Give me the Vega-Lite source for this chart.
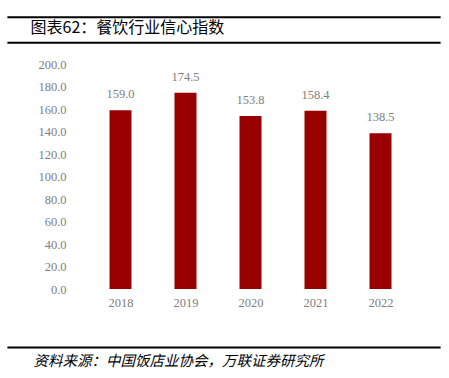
{
  "$schema": "https://vega.github.io/schema/vega-lite/v6.json",
  "width": 335,
  "height": 225,
  "autosize": {"type": "none"},
  "padding": {"left": 83, "top": 64, "right": 31, "bottom": 89},
  "background": "white",
  "config": {
    "view": {"stroke": null},
    "axis": {
      "labelOverlap": false,
      "domain": false,
      "ticks": false,
      "grid": false,
      "title": null,
      "labelFont": "Liberation Serif",
      "labelFontSize": 12.5,
      "labelColor": "#808080"
    },
    "axisX": {"labelPadding": 7},
    "axisY": {"labelPadding": 17}
  },
  "datasets": {
    "bars": [
      {"year": 2018, "value": 159.0},
      {"year": 2019, "value": 174.5},
      {"year": 2020, "value": 153.8},
      {"year": 2021, "value": 158.4},
      {"year": 2022, "value": 138.5}
    ],
    "rules": [
      {"x1": 2016.26, "x2": 2022.925, "y": 241.5},
      {"x1": 2016.26, "x2": 2022.925, "y": 218.9},
      {"x1": 2016.26, "x2": 2022.925, "y": -52}
    ],
    "texts": [
      {"x": 2016.617, "y": 232.3, "label": "图表62：餐饮行业信心指数", "kind": "title"},
      {"x": 2016.66, "y": -64.9, "label": "资料来源：中国饭店业协会，万联证券研究所", "kind": "source"}
    ]
  },
  "encoding": {
    "x": {
      "type": "quantitative",
      "scale": {"domain": [2017.5, 2022.5], "nice": false, "zero": false},
      "axis": {"values": [2018, 2019, 2020, 2021, 2022], "tickCount": 5, "format": "d"}
    },
    "y": {
      "type": "quantitative",
      "scale": {"domain": [0, 200], "nice": false, "zero": false},
      "axis": {"values": [0, 20, 40, 60, 80, 100, 120, 140, 160, 180, 200], "tickCount": 11, "format": ".1f"}
    }
  },
  "layer": [
    {
      "data": {"name": "bars"},
      "mark": {"type": "bar", "color": "#990000", "size": 22},
      "encoding": {
        "x": {"field": "year"},
        "y": {"field": "value"}
      }
    },
    {
      "data": {"name": "bars"},
      "mark": {"type": "text", "baseline": "bottom", "dy": -9, "font": "Liberation Serif", "fontSize": 12.5, "color": "#808080"},
      "encoding": {
        "x": {"field": "year"},
        "y": {"field": "value"},
        "text": {"field": "value", "type": "quantitative", "format": ".1f"}
      }
    },
    {
      "data": {"name": "rules"},
      "mark": {"type": "rule", "color": "#000000", "strokeWidth": 2, "clip": false},
      "encoding": {
        "x": {"field": "x1"},
        "x2": {"field": "x2"},
        "y": {"field": "y"}
      }
    },
    {
      "data": {"name": "texts"},
      "transform": [{"filter": "datum.kind === 'title'"}],
      "mark": {"type": "text", "align": "left", "baseline": "middle", "font": "Noto Sans CJK SC", "fontSize": 16, "fontWeight": "normal", "color": "#000000", "clip": false},
      "encoding": {
        "x": {"field": "x"},
        "y": {"field": "y"},
        "text": {"field": "label"}
      }
    },
    {
      "data": {"name": "texts"},
      "transform": [{"filter": "datum.kind === 'source'"}],
      "mark": {"type": "text", "align": "left", "baseline": "middle", "font": "Noto Sans CJK SC", "fontSize": 14.5, "fontStyle": "italic", "color": "#000000", "clip": false},
      "encoding": {
        "x": {"field": "x"},
        "y": {"field": "y"},
        "text": {"field": "label"}
      }
    }
  ]
}
